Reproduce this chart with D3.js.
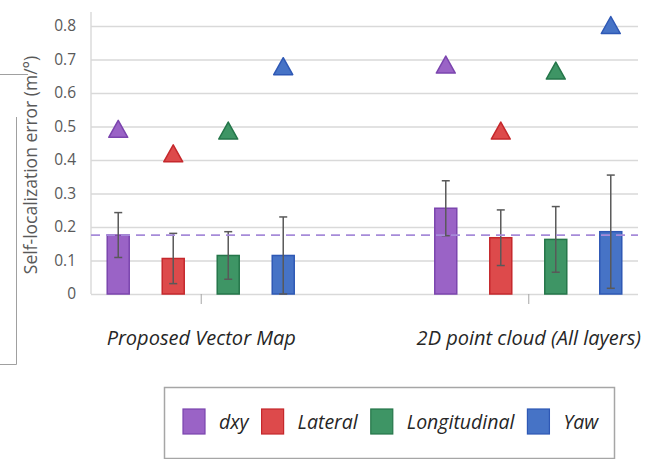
<!DOCTYPE html>
<html><head><meta charset="utf-8">
<script src="https://cdn.jsdelivr.net/npm/d3@7"></script>
<style>
html,body{margin:0;padding:0;background:#fff;}
svg{display:block;}
</style></head>
<body>
<svg id="chart" width="649" height="459"></svg>
<script>
// ---- data ----
const categories = ["Proposed Vector Map", "2D point cloud (All layers)"];
const seriesNames = ["dxy", "Lateral", "Longitudinal", "Yaw"];
const meanValues = {            // bar heights (m / deg)
  "dxy":          [0.176, 0.256],
  "Lateral":      [0.106, 0.168],
  "Longitudinal": [0.115, 0.163],
  "Yaw":          [0.115, 0.186]
};
const errValues = {             // +/- error bar half-lengths
  "dxy":          [0.067, 0.082],
  "Lateral":      [0.075, 0.083],
  "Longitudinal": [0.071, 0.098],
  "Yaw":          [0.115, 0.169]
};
const maxValues = {             // triangle markers
  "dxy":          [0.493, 0.685],
  "Lateral":      [0.420, 0.488],
  "Longitudinal": [0.488, 0.667],
  "Yaw":          [0.680, 0.803]
};
const referenceLine = 0.176;
const yTicks = [0, 0.1, 0.2, 0.3, 0.4, 0.5, 0.6, 0.7, 0.8];
const yTitle = "Self-localization error (m/°)";

// ---- styles ----
const fills   = {"dxy":"#9a63c6","Lateral":"#dd4a4b","Longitudinal":"#3e9565","Yaw":"#4673c6"};
const strokes = {"dxy":"#7b45ae","Lateral":"#c5282c","Longitudinal":"#25764a","Yaw":"#2e58b5"};
const textCol = "#595959";
const font = "'Open Sans', sans-serif";

const svg = d3.select("#chart");
const plot = {left: 91, right: 638, top: 12, bottom: 294};

const y = d3.scaleLinear().domain([0, 0.8]).range([plot.bottom, 26]);
const x0 = d3.scalePoint().domain(categories).range([plot.left, plot.right]).padding(0.335);
const x1 = d3.scaleBand().domain(seriesNames).range([-110, 110]).paddingInner(0.6).paddingOuter(0.3);

// decorative frame fragments (cropped neighbouring figure)
const deco = svg.append("g").attr("stroke", "#a0a0a0").attr("stroke-width", 1).attr("fill", "none");
deco.append("path").attr("d", "M0,74.5H28");
deco.append("path").attr("d", "M16.5,117V364.5H0");

// gridlines
const yAxis = d3.axisLeft(y).tickValues(yTicks).tickSize(-(plot.right - plot.left)).tickPadding(15)
  .tickFormat(d => d === 0 ? "0" : d3.format(".1f")(d));
const gy = svg.append("g").attr("transform", `translate(${plot.left},0)`).call(yAxis);
gy.select(".domain").remove();
gy.selectAll(".tick line").attr("stroke", "#d9d9d9").attr("stroke-width", 1.4);
gy.selectAll(".tick text").attr("fill", textCol).attr("font-family", font).attr("font-size", 15.5);

// vertical axis line
svg.append("line").attr("x1", plot.left).attr("x2", plot.left).attr("y1", plot.top).attr("y2", plot.bottom)
  .attr("stroke", "#d9d9d9").attr("stroke-width", 1.4);

// x axis ticks + labels
const xAxis = d3.axisBottom(x0).tickSize(10).tickPadding(27).tickSizeOuter(0);
const gx = svg.append("g").attr("transform", `translate(0,${plot.bottom})`).call(xAxis);
gx.select(".domain").remove();
gx.selectAll(".tick line").attr("stroke", "#a6a6a6").attr("stroke-width", 1);
gx.selectAll(".tick text").attr("fill", "#262626").attr("font-family", font)
  .attr("font-size", 20).attr("font-style", "italic").attr("dy", "0.71em");

// y title
svg.append("text").attr("transform", `translate(37,${(plot.top + plot.bottom) / 2 + 12}) rotate(-90)`)
  .attr("text-anchor", "middle").attr("fill", textCol).attr("font-family", font).attr("font-size", 17.5)
  .text(yTitle);

// bars
const groups = svg.append("g").selectAll("g").data(categories).join("g")
  .attr("transform", d => `translate(${x0(d)},0)`);
groups.each(function(cat, ci) {
  const g = d3.select(this);
  seriesNames.forEach(s => {
    const v = meanValues[s][ci];
    g.append("rect").attr("x", x1(s)).attr("width", x1.bandwidth())
      .attr("y", y(v)).attr("height", y(0) - y(v))
      .attr("fill", fills[s]).attr("stroke", strokes[s]).attr("stroke-width", 1.5);
  });
});

// dashed reference line
svg.append("line").attr("x1", plot.left).attr("x2", plot.right)
  .attr("y1", y(referenceLine)).attr("y2", y(referenceLine))
  .attr("stroke", "#a68bd9").attr("stroke-width", 1.8).attr("stroke-dasharray", "9,6");

// error bars
groups.each(function(cat, ci) {
  const g = d3.select(this);
  seriesNames.forEach(s => {
    const v = meanValues[s][ci], e = errValues[s][ci];
    const cx = x1(s) + x1.bandwidth() / 2;
    const lo = Math.max(0, v - e), hi = v + e;
    const eg = g.append("g").attr("stroke", "#595959").attr("stroke-width", 1.5);
    eg.append("line").attr("x1", cx).attr("x2", cx).attr("y1", y(lo)).attr("y2", y(hi));
    eg.append("line").attr("x1", cx - 4).attr("x2", cx + 4).attr("y1", y(hi)).attr("y2", y(hi));
    eg.append("line").attr("x1", cx - 4).attr("x2", cx + 4).attr("y1", y(lo)).attr("y2", y(lo));
  });
});

// triangle markers (bbox-centred)
const tri = {draw(ctx, size) { const w = 9.5, h = 8.5;
  ctx.moveTo(0, -h); ctx.lineTo(w, h); ctx.lineTo(-w, h); ctx.closePath(); }};
const sym = d3.symbol().type(tri);
groups.each(function(cat, ci) {
  const g = d3.select(this);
  seriesNames.forEach(s => {
    const cx = x1(s) + x1.bandwidth() / 2;
    g.append("path").attr("d", sym()).attr("transform", `translate(${cx},${y(maxValues[s][ci])})`)
      .attr("fill", fills[s]).attr("stroke", strokes[s]).attr("stroke-width", 1.5).attr("stroke-linejoin", "round");
  });
});

// legend
const lg = svg.append("g");
lg.append("rect").attr("x", 164.5).attr("y", 387.5).attr("width", 450).attr("height", 71)
  .attr("fill", "#fff").attr("stroke", "#a6a6a6").attr("stroke-width", 1.5);
let lx = 183;
seriesNames.forEach(s => {
  lg.append("rect").attr("x", lx).attr("y", 409).attr("width", 22).attr("height", 25)
    .attr("fill", fills[s]).attr("stroke", strokes[s]).attr("stroke-width", 1.2);
  const t = lg.append("text").attr("x", lx + 36).attr("y", 428.5).attr("fill", "#262626")
    .attr("font-family", font).attr("font-size", 19.5).attr("font-style", "italic").text(s);
  lx += 36 + t.node().getComputedTextLength() + 13;
});
</script>
</body></html>
